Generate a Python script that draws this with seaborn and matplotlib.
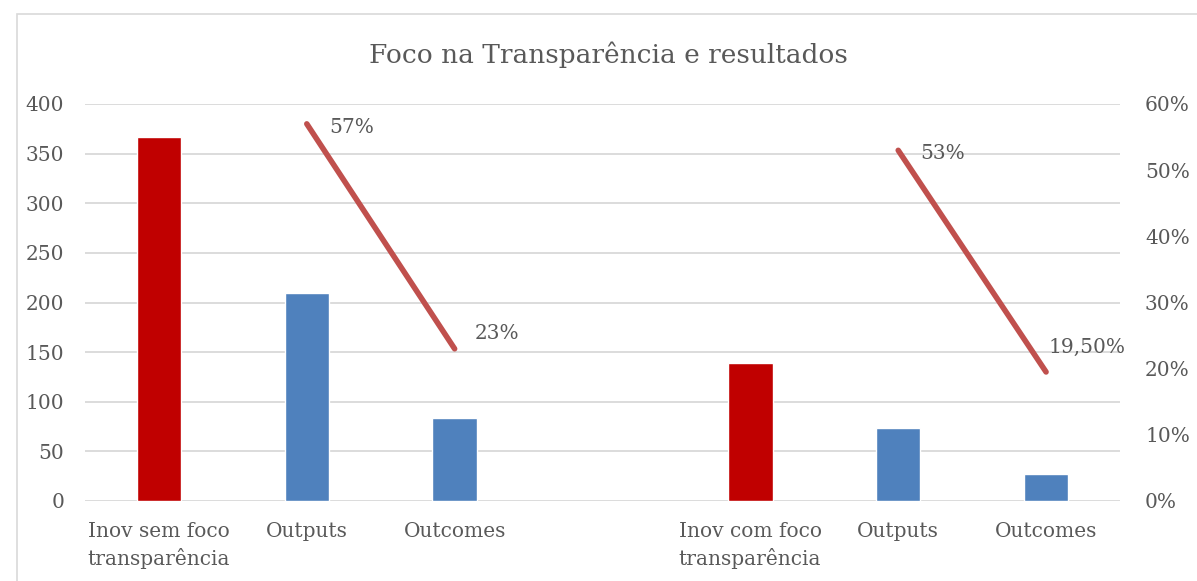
import numpy as np
import pandas as pd
import seaborn as sns
import matplotlib.pyplot as plt
from matplotlib.patches import Rectangle

# chart values
categorias = ["Inov sem foco\ntransparência", "Outputs", "Outcomes", "",
              "Inov com foco\ntransparência", "Outputs", "Outcomes"]
tipos = ["inov", "res", "res", "res", "inov", "res", "res"]
quantidades = [367, 210, 84, np.nan, 139, 74, 27]
percentuais = [np.nan, 0.57, 0.23, np.nan, np.nan, 0.53, 0.195]
rotulos_pct = ["", "57%", "23%", "", "", "53%", "19,50%"]

df = pd.DataFrame({"pos": range(len(categorias)), "tipo": tipos,
                   "qtd": quantidades, "pct": percentuais})

sns.set_theme(style="white")
plt.rcParams['font.family'] = ['DejaVu Serif']
cinza = "#595959"

fig = plt.figure(figsize=(11.97, 5.81), dpi=100)
fig.patches.append(Rectangle((17 / 1197, -0.1), 1.2, 1 - 14 / 581 + 0.1,
                             transform=fig.transFigure, fill=False,
                             edgecolor="#d9d9d9", linewidth=1.2))
ax = fig.add_axes([85 / 1197, 1 - 501 / 581, (1120 - 85) / 1197, (501 - 104) / 581])

sns.barplot(data=df.dropna(subset=["qtd"]), x="pos", y="qtd", hue="tipo",
            palette={"inov": "#C00000", "res": "#4F81BD"}, dodge=False,
            native_scale=True, width=0.3, saturation=1, legend=False,
            ax=ax, zorder=3)

ax.set_xlim(-0.5, len(categorias) - 0.5)
ax.set_ylim(0, 400)
ax.set_yticks(range(0, 401, 50))
ax.set_xticks(range(len(categorias)))
ax.set_xticklabels(categorias, ha="center", multialignment="left",
                   linespacing=1.45)
ax.set_xlabel("")
ax.set_ylabel("")
ax.grid(axis="y", color="#d9d9d9", linewidth=1.3, zorder=0)
for s in ax.spines.values():
    s.set_visible(False)
ax.tick_params(axis="y", length=0, pad=15, labelsize=14.5, labelcolor=cinza)
ax.tick_params(axis="x", length=0, pad=15, labelsize=14.5, labelcolor=cinza)

ax2 = ax.twinx()
ax2.plot(df["pos"], df["pct"], color="#C0504D", linewidth=4,
         solid_capstyle="round", zorder=4)
ax2.set_ylim(0, 0.6)
ax2.set_yticks(np.arange(0, 0.61, 0.1))
ax2.set_yticklabels([f"{int(round(v * 100))}%" for v in np.arange(0, 0.61, 0.1)])
for s in ax2.spines.values():
    s.set_visible(False)
ax2.tick_params(axis="y", length=0, pad=18, labelsize=14.5, labelcolor=cinza)
ax2.grid(False)

offsets = [None, (22, -4), (20, 15), None, None, (22, -3), (2, 25)]
for i, (p, r) in enumerate(zip(percentuais, rotulos_pct)):
    if r:
        ax2.annotate(r, (i, p), xytext=offsets[i], textcoords="offset pixels",
                     ha="left", va="center", fontsize=14.5, color=cinza)

fig.text(608 / 1197, 1 - 55 / 581, "Foco na Transparência e resultados",
         ha="center", va="center", fontsize=19, color=cinza)

fig.savefig("out.png", dpi=100)
